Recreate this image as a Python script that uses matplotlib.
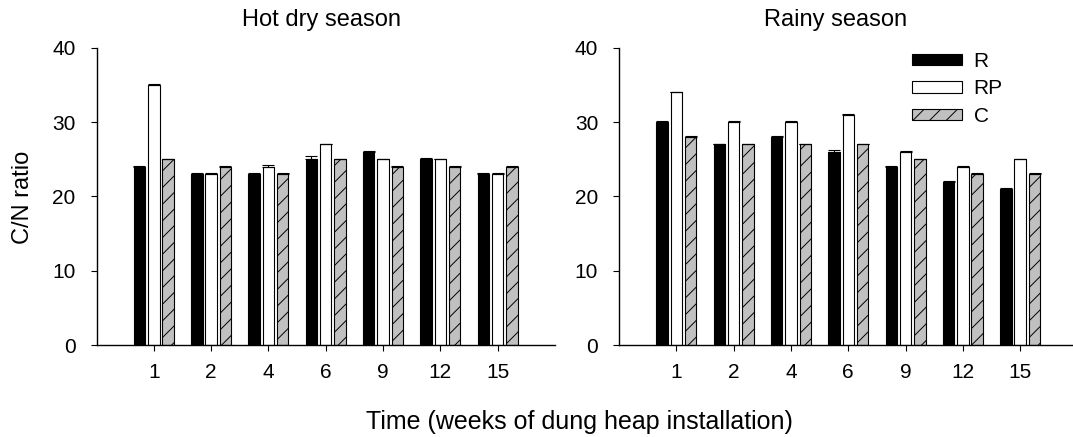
import matplotlib
matplotlib.use("Agg")
import matplotlib.pyplot as plt
import numpy as np

plt.rcParams['font.family'] = ['Liberation Sans', 'DejaVu Sans']
plt.rcParams['hatch.linewidth'] = 0.7

weeks = ['1', '2', '4', '6', '9', '12', '15']
series = ['R', 'RP', 'C']

hot_R = [24, 23, 23, 25, 26, 25, 23]
hot_RP = [35, 23, 24, 27, 25, 25, 23]
hot_C = [25, 24, 23, 25, 24, 24, 24]
hot_R_err = [0.1, 0.1, 0.1, 0.4, 0.1, 0.15, 0.1]
hot_RP_err = [0.1, 0.1, 0.25, 0.1, 0.1, 0.1, 0.1]
hot_C_err = [0.1, 0.1, 0.1, 0.1, 0.1, 0.1, 0.1]

rainy_R = [30, 27, 28, 26, 24, 22, 21]
rainy_RP = [34, 30, 30, 31, 26, 24, 25]
rainy_C = [28, 27, 27, 27, 25, 23, 23]
rainy_R_err = [0.1, 0.1, 0.1, 0.3, 0.1, 0.1, 0.1]
rainy_RP_err = [0.1, 0.1, 0.15, 0.1, 0.1, 0.1, 0.1]
rainy_C_err = [0.1, 0.1, 0.1, 0.1, 0.1, 0.1, 0.1]

titles = ['Hot dry season', 'Rainy season']
ylabel = 'C/N ratio'
xlabel = 'Time (weeks of dung heap installation)'

fig = plt.figure(figsize=(10.73, 4.37), dpi=100)
ax1 = fig.add_axes([96.5/1073, 0.2105, 458.5/1073, 0.680])
ax2 = fig.add_axes([619/1073, 0.2105, 458.5/1073, 0.680])

styles = [dict(color='black', edgecolor='black'),
          dict(color='white', edgecolor='black'),
          dict(color='#c0c0c0', edgecolor='black', hatch='//')]
offsets = [-0.25, 0.0, 0.25]
width = 0.2

datasets = [
    ([hot_R, hot_RP, hot_C], [hot_R_err, hot_RP_err, hot_C_err]),
    ([rainy_R, rainy_RP, rainy_C], [rainy_R_err, rainy_RP_err, rainy_C_err]),
]

x = np.arange(len(weeks))
for ax, (vals, errs) in zip([ax1, ax2], datasets):
    for name, v, e, off, st in zip(series, vals, errs, offsets, styles):
        ax.bar(x + off, v, width, yerr=[np.zeros(len(e)), e], label=name,
               linewidth=0.8, error_kw=dict(ecolor='black', elinewidth=0.8,
                                            capsize=4, capthick=0.8), **st)
    ax.set_xlim(-1, 7)
    ax.set_ylim(0, 40)
    ax.set_yticks([0, 10, 20, 30, 40])
    ax.set_xticks(x)
    ax.set_xticklabels(weeks)
    for s in ['top', 'right']:
        ax.spines[s].set_visible(False)
    for s in ['left', 'bottom']:
        ax.spines[s].set_linewidth(1.0)
    ax.tick_params(axis='both', direction='out', length=4, width=0.8,
                   labelsize=15)
    ax.tick_params(axis='y', pad=11)
    ax.tick_params(axis='x', pad=9)

fig.text(322/1073, 1 - 20/437, titles[0], ha='center', va='center', fontsize=17)
fig.text(836/1073, 1 - 20/437, titles[1], ha='center', va='center', fontsize=17)
fig.text(23/1073, 1 - 197/437, ylabel, rotation=90, ha='center', va='center',
         fontsize=17)
fig.text(579/1073, 1 - 422/437, xlabel, ha='center', va='center', fontsize=18)

ax2.legend(loc='upper left', bbox_to_anchor=((914 - 619) / 458.5 - 0.022, 1.015),
           frameon=False, fontsize=15, handlelength=2.4, handleheight=0.45,
           handletextpad=0.55, labelspacing=0.42, borderaxespad=0.0)

fig.savefig('out.png', dpi=100)
